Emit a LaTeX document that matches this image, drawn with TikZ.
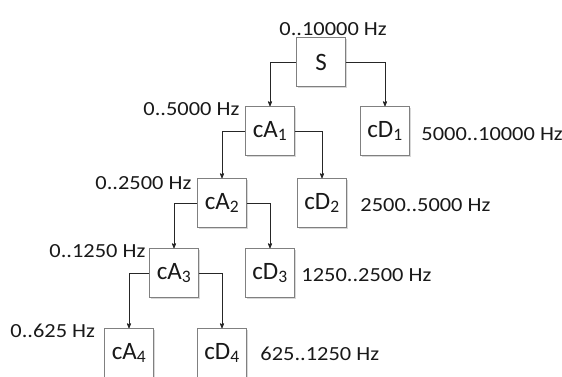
\documentclass[tikz,border=0pt]{standalone}
\usepackage{fontspec}
\setmainfont{Carlito}
\usetikzlibrary{arrows,shadows}

\begin{document}
\begin{tikzpicture}[->,>=stealth',x=1pt,y=-1pt,line width=0.8pt]
	\tikzstyle{band}=[draw=black!50,fill=white,line width=0.6pt,minimum width=49pt,minimum height=49pt,inner sep=0pt,font=\fontsize{25}{30}\selectfont,text=black!90,drop shadow={shadow xshift=1pt,shadow yshift=-1pt,fill=black!30}]
	\tikzstyle{freq}=[xscale=1.12,anchor=base west,inner sep=0pt,font=\fontsize{20}{24}\selectfont,text=black!90]

	\useasboundingbox (0,0) rectangle (562,376);

	\node[band] (S) at (321,62) {S};
	\node[band] (A1) at (270,131) {cA\textsubscript{1}};
	\node[band] (D1) at (385,131) {cD\textsubscript{1}};
	\node[band] (A2) at (222,203) {cA\textsubscript{2}};
	\node[band] (D2) at (322,203) {cD\textsubscript{2}};
	\node[band] (A3) at (174,273) {cA\textsubscript{3}};
	\node[band] (D3) at (270,273) {cD\textsubscript{3}};
	\node[band] (A4) at (129,353) {cA\textsubscript{4}};
	\node[band] (D4) at (222,353) {cD\textsubscript{4}};

	% frequency ranges
	\node[freq] (fS) at (279,35) {0..10000 Hz};
	\node[freq] (fA1) at (143,115) {0..5000 Hz};
	\node[freq] (fD1) at (421,140) {5000..10000 Hz};
	\node[freq] (fA2) at (95,189) {0..2500 Hz};
	\node[freq] (fD2) at (360,211) {2500..5000 Hz};
	\node[freq] (fA3) at (49,257) {0..1250 Hz};
	\node[freq] (fD3) at (301,281) {1250..2500 Hz};
	\node[freq] (fA4) at (10,337) {0..625 Hz};
	\node[freq] (fD4) at (260,360) {625..1250 Hz};

	\draw[black!85] (S.west) -| (A1.north);
	\draw[black!85] (S.east) -| (D1.north);
	\draw[black!85] (A1.west) -| (A2.north);
	\draw[black!85] (A1.east) -| (D2.north);
	\draw[black!85] (A2.west) -| (A3.north);
	\draw[black!85] (A2.east) -| (D3.north);
	\draw[black!85] (A3.west) -| (A4.north);
	\draw[black!85] (A3.east) -| (D4.north);
\end{tikzpicture}
\end{document}
